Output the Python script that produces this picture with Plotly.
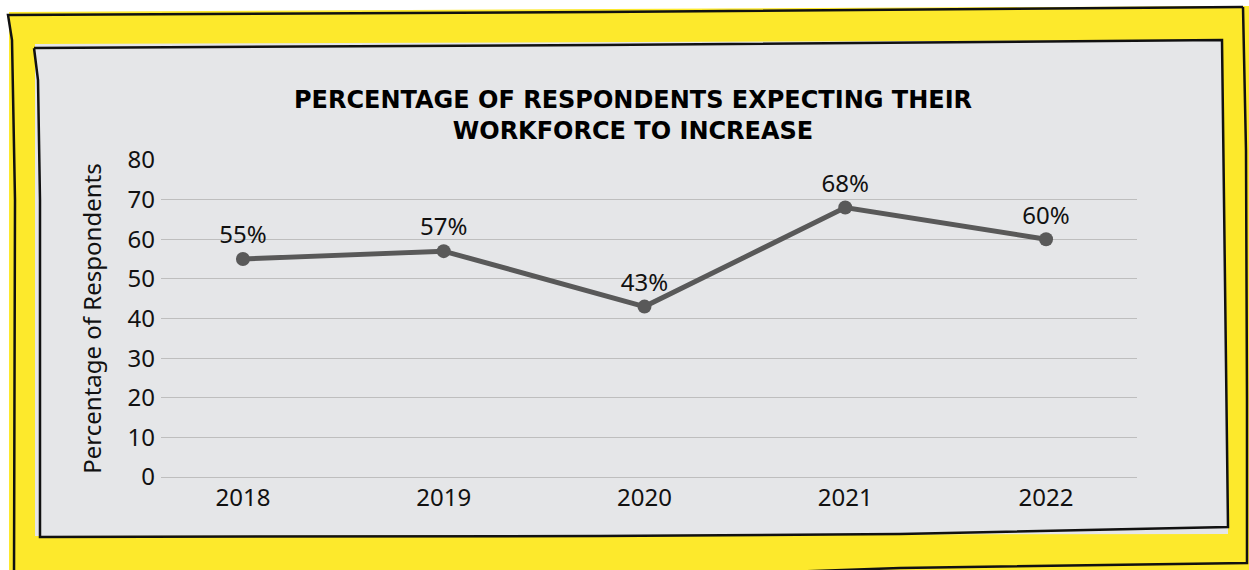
import plotly.graph_objects as go

# Survey results by year
years = ["2018", "2019", "2020", "2021", "2022"]
pct_increase = [55, 57, 43, 68, 60]
point_labels = ["55%", "57%", "43%", "68%", "60%"]
y_ticks = [0, 10, 20, 30, 40, 50, 60, 70, 80]

W, H = 1249, 570
# plot area in pixels
L, R, T, B = 161, 1137, 160, 477


def px(x):
    return (x - L) / (R - L)


def py(y):
    return (B - y) / (B - T)


def path(points, close=True):
    d = "M " + " L ".join(f"{px(x):.5f},{py(y):.5f}" for x, y in points)
    return d + (" Z" if close else "")


YELLOW = "#FDE92C"
PANEL = "#E5E6E8"
LINE = "#595959"
GRID = "#BEBEBE"

fig = go.Figure()

fig.add_trace(go.Scatter(
    x=years,
    y=pct_increase,
    mode="lines+markers+text",
    text=point_labels,
    textposition="top center",
    textfont=dict(family="Noto Sans", size=24, color="#111111"),
    line=dict(color=LINE, width=5),
    marker=dict(color=LINE, size=14),
    cliponaxis=False,
    hoverinfo="x+y",
))

shapes = []
# yellow backdrop
shapes.append(dict(type="path", xref="paper", yref="paper", layer="below",
                   path=path([(9, 12), (1249, 6), (1249, 575), (9, 575)]),
                   fillcolor=YELLOW, line=dict(width=0)))
# hand-drawn outer frame
shapes.append(dict(type="path", xref="paper", yref="paper", layer="below",
                   path=path([(14, 575), (15, 200), (12, 40), (8, 15),
                              (600, 12), (1243, 7)], close=False),
                   line=dict(color="#111111", width=2.5)))
shapes.append(dict(type="path", xref="paper", yref="paper", layer="below",
                   path=path([(1243, 7), (1246, 150), (1247, 400), (1247, 563),
                              (900, 568), (700, 575)], close=False),
                   line=dict(color="#111111", width=2.5)))
# grey panel
shapes.append(dict(type="path", xref="paper", yref="paper", layer="below",
                   path=path([(35, 44), (1222, 40), (1228, 528), (1228, 534), (35, 536)]),
                   fillcolor=PANEL, line=dict(width=0)))
shapes.append(dict(type="path", xref="paper", yref="paper", layer="below",
                   path=path([(34, 48), (600, 45), (1222, 40), (1224, 200),
                              (1228, 527), (900, 534), (600, 536), (40, 537),
                              (40, 200), (38, 80), (34, 48)], close=False),
                   line=dict(color="#111111", width=2.5)))
fig.update_layout(shapes=shapes)

fig.update_layout(
    width=W, height=H,
    margin=dict(l=L, r=W - R, t=T, b=H - B, autoexpand=False),
    paper_bgcolor="white",
    plot_bgcolor="rgba(0,0,0,0)",
    showlegend=False,
    font=dict(family="Noto Sans", color="#111111"),
    title=dict(
        text="PERCENTAGE OF RESPONDENTS EXPECTING THEIR<br>WORKFORCE TO INCREASE",
        font=dict(family="DejaVu Sans", size=24, color="#000000", weight="bold"),
        x=633 / W, xanchor="center",
        y=1 - 108 / H, yanchor="middle",
    ),
    xaxis=dict(
        type="category",
        range=[-0.408, 4.453],
        showgrid=False, zeroline=False, showline=False,
        ticks="", ticklabelstandoff=4,
        tickfont=dict(family="Noto Sans", size=24, color="#111111"),
        fixedrange=True,
    ),
    yaxis=dict(
        range=[0, 80],
        tickvals=y_ticks,
        showgrid=True, gridcolor=GRID, gridwidth=1,
        zeroline=True, zerolinecolor=GRID, zerolinewidth=1,
        showline=False,
        ticks="", ticklabelstandoff=5,
        tickfont=dict(family="Noto Sans", size=24, color="#111111"),
        title=dict(text="Percentage of Respondents",
                   font=dict(family="Noto Sans", size=24, color="#111111"),
                   standoff=19),
        fixedrange=True,
    ),
)

fig.write_html("out.html", config={"displayModeBar": False})
